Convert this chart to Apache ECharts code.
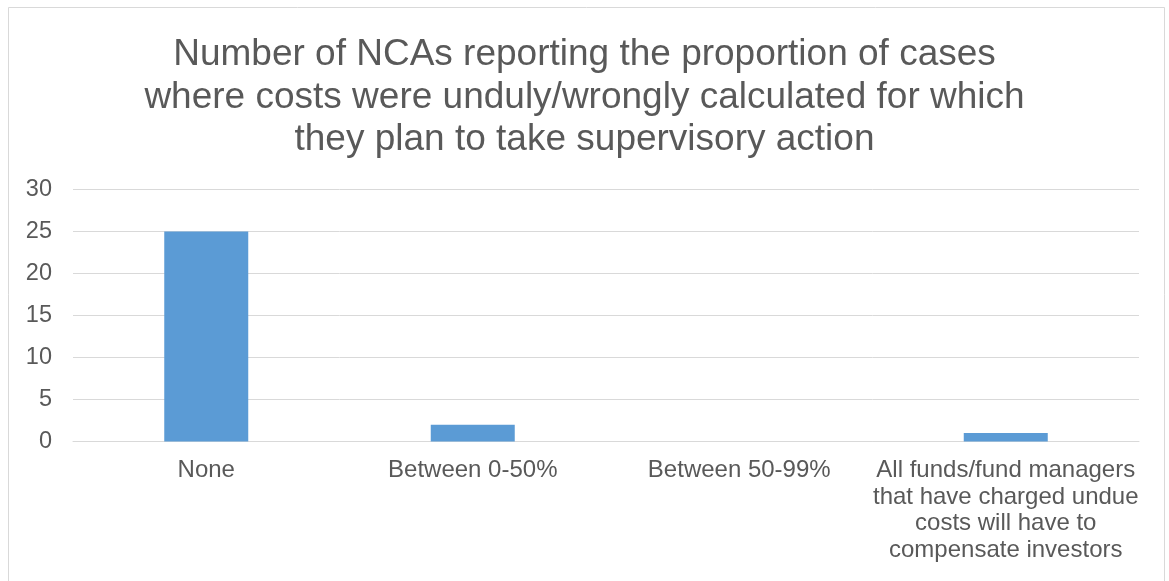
<!DOCTYPE html>
<html>
<head>
<meta charset="utf-8">
<style>
  html, body { margin: 0; padding: 0; background: #fff; }
  #chart { width: 1169px; height: 581px; }
</style>
<script src="https://cdn.jsdelivr.net/npm/echarts@6/dist/echarts.min.js"></script>
</head>
<body>
<div id="chart"></div>
<script>
// Answer categories and the number of NCAs for each
const categories = [
  'None',
  'Between 0-50%',
  'Between 50-99%',
  'All funds/fund managers\nthat have charged undue\ncosts will have to\ncompensate investors'
];
const counts = [25, 2, 0, 1];
const yTicks = { min: 0, max: 30, interval: 5 };

const titleText = 'Number of NCAs reporting the proportion of cases\nwhere costs were unduly/wrongly calculated for which\nthey plan to take supervisory action';

const chart = echarts.init(document.getElementById('chart'));
const font = 'Liberation Sans, Arial, sans-serif';
const textColor = '#595959';

chart.setOption({
  backgroundColor: '#ffffff',
  animation: false,
  graphic: [{
    type: 'rect',
    shape: { x: 8.5, y: 7.5, width: 1156, height: 600 },
    style: { fill: 'none', stroke: '#d9d9d9', lineWidth: 1 },
    silent: true
  }],
  title: {
    text: titleText,
    left: 'center',
    top: 29,
    textStyle: {
      fontFamily: font,
      fontSize: 37,
      fontWeight: 'normal',
      color: textColor,
      lineHeight: 42.5
    }
  },
  grid: { left: 73, right: 30, top: 189.5, bottom: 139.5, containLabel: false },
  xAxis: {
    type: 'category',
    data: categories,
    axisLine: { show: true, lineStyle: { color: '#d9d9d9', width: 1 } },
    axisTick: { show: false },
    axisLabel: {
      interval: 0,
      margin: 16,
      fontFamily: font,
      fontSize: 24,
      lineHeight: 26.5,
      color: textColor,
      align: 'center'
    }
  },
  yAxis: {
    type: 'value',
    min: yTicks.min,
    max: yTicks.max,
    interval: yTicks.interval,
    axisLine: { show: false },
    axisTick: { show: false },
    splitLine: { show: true, lineStyle: { color: '#d9d9d9', width: 1 } },
    axisLabel: {
      margin: 21,
      fontFamily: font,
      fontSize: 23.5,
      color: textColor
    }
  },
  series: [{
    type: 'bar',
    data: counts,
    barWidth: 84,
    itemStyle: { color: '#5b9bd5' }
  }]
});
</script>
</body>
</html>
